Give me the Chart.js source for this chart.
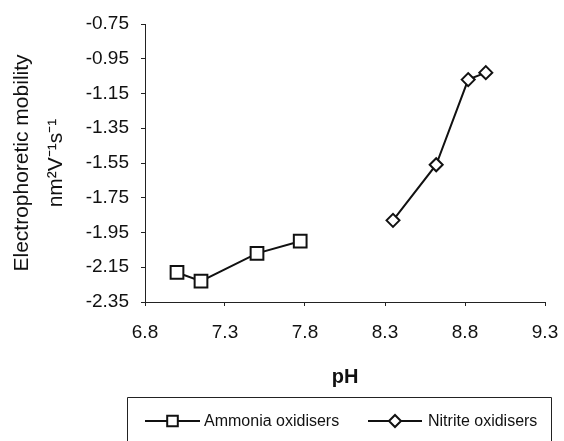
<!DOCTYPE html>
<html lang="en">
<head>
  <meta charset="UTF-8" />
  <title>Electrophoretic mobility vs pH</title>
  <script src="https://cdn.jsdelivr.net/npm/chart.js"></script>
  <style>
    body { margin: 0; background: #fff; }
    #wrap { width: 564px; height: 441px; }
  </style>
</head>
<body>
  <div id="wrap"><canvas id="chartMobility" width="564" height="441"></canvas></div>

  <script>
    // data
    const ammoniaPH = [7.0, 7.15, 7.5, 7.77];
    const ammoniaMobility = [-2.18, -2.23, -2.07, -2.0];
    const nitritePH = [8.35, 8.62, 8.82, 8.93];
    const nitriteMobility = [-1.88, -1.56, -1.07, -1.03];

    const yTicks = [-2.35, -2.15, -1.95, -1.75, -1.55, -1.35, -1.15, -0.95, -0.75];
    const xTicks = [6.8, 7.3, 7.8, 8.3, 8.8, 9.3];

    const seriesNames = ['Ammonia oxidisers', 'Nitrite oxidisers'];

    const toPoints = (xs, ys) => xs.map((x, i) => ({ x: x, y: ys[i] }));

    const FONT = '"Liberation Sans", Arial, sans-serif';

    // legend in a box under the axis title, like the original
    const boxLegend = {
      id: 'boxLegend',
      afterDraw(chart) {
        const ctx = chart.ctx;
        ctx.save();
        ctx.strokeStyle = '#222';
        ctx.lineWidth = 1;
        ctx.beginPath();
        ctx.moveTo(127.5, 445);
        ctx.lineTo(127.5, 397.5);
        ctx.lineTo(551.5, 397.5);
        ctx.lineTo(551.5, 445);
        ctx.stroke();

        const items = [
          { x0: 145, x1: 200, tx: 204 },
          { x0: 368, x1: 422, tx: 428 }
        ];
        const y = 421;
        chart.data.datasets.forEach((ds, i) => {
          const it = items[i];
          ctx.strokeStyle = ds.borderColor;
          ctx.lineWidth = 2;
          ctx.beginPath();
          ctx.moveTo(it.x0, y);
          ctx.lineTo(it.x1, y);
          ctx.stroke();
          ctx.fillStyle = '#fff';
          Chart.helpers.drawPoint(ctx, {
            pointStyle: ds.pointStyle,
            radius: ds.legendRadius,
            borderWidth: 2
          }, (it.x0 + it.x1) / 2, y);
          ctx.fillStyle = '#111';
          ctx.font = '16px ' + FONT;
          ctx.textBaseline = 'middle';
          ctx.textAlign = 'left';
          ctx.fillText(ds.label, it.tx, y + 1);
        });
        ctx.restore();
      }
    };

    new Chart(document.getElementById('chartMobility'), {
      type: 'line',
      data: {
        datasets: [
          {
            label: seriesNames[0],
            data: toPoints(ammoniaPH, ammoniaMobility),
            borderColor: '#111',
            backgroundColor: '#fff',
            borderWidth: 2,
            pointStyle: 'rect',
            pointRadius: 9,
            pointBorderWidth: 2,
            legendRadius: 7.5
          },
          {
            label: seriesNames[1],
            data: toPoints(nitritePH, nitriteMobility),
            borderColor: '#111',
            backgroundColor: '#fff',
            borderWidth: 2,
            pointStyle: 'rectRot',
            pointRadius: 6.5,
            pointBorderWidth: 2,
            legendRadius: 6
          }
        ]
      },
      options: {
        responsive: false,
        animation: false,
        layout: { padding: { top: 24, right: 0, bottom: 51, left: 0 } },
        plugins: {
          legend: { display: false },
          tooltip: { enabled: false }
        },
        scales: {
          x: {
            type: 'linear',
            min: 6.8,
            max: 9.3,
            afterBuildTicks: (axis) => { axis.ticks = xTicks.map(v => ({ value: v })); },
            afterFit: (axis) => { axis.height = 88; axis.paddingRight = 19; },
            border: { color: '#222', width: 1 },
            grid: { drawOnChartArea: false, tickLength: 4, color: '#222' },
            ticks: {
              color: '#111',
              padding: 15,
              font: { family: FONT, size: 19 },
              callback: (v) => v.toFixed(1)
            },
            title: {
              display: true,
              text: 'pH',
              color: '#111',
              padding: { top: 0, bottom: 1 },
              font: { family: FONT, size: 20, weight: 'bold' }
            }
          },
          y: {
            type: 'linear',
            min: -2.35,
            max: -0.75,
            afterBuildTicks: (axis) => { axis.ticks = yTicks.map(v => ({ value: v })); },
            afterFit: (axis) => { axis.width = 145; },
            border: { color: '#222', width: 1 },
            grid: { drawOnChartArea: false, tickLength: 4, color: '#222' },
            ticks: {
              color: '#111',
              padding: 12,
              font: { family: FONT, size: 19 },
              callback: (v) => v.toFixed(2)
            },
            title: {
              display: true,
              text: ['Electrophoretic mobility', 'nm\u00b2V\u207b\u00b9s\u207b\u00b9'],
              color: '#111',
              padding: { top: 5, bottom: 0 },
              font: { family: FONT, size: 21, lineHeight: 1.62 }
            }
          }
        }
      },
      plugins: [boxLegend]
    });
  </script>
</body>
</html>
